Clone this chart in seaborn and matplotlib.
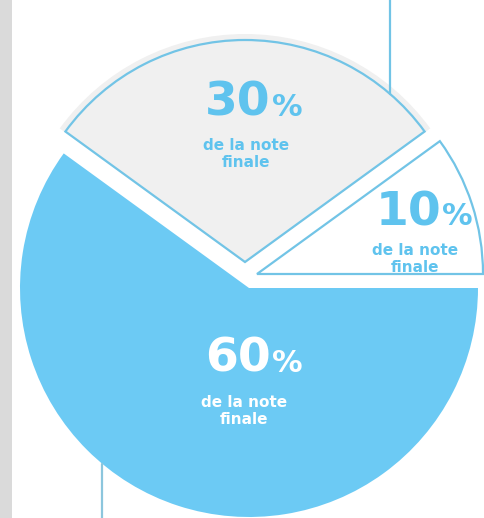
import numpy as np
import matplotlib
matplotlib.use("Agg")
import matplotlib.pyplot as plt
import seaborn as sns

# Data
shares = [10, 30, 60]
share_labels = ["10", "30", "60"]
sub_label = "de la note\nfinale"

# Colours
BLUE = "#6ccaf4"
OUTLINE = "#72c4e6"
TEXT_BLUE = "#5fc3ee"
LIGHT_GRAY = "#f0f0f0"
STRIP = "#dadada"

W, H = 485, 518


def py(y):
    # pixel row (from top) -> data y (from bottom)
    return H - y


sns.set_style("white")
plt.rcParams["font.family"] = ["DejaVu Sans"]

fig = plt.figure(figsize=(W / 100, H / 100), dpi=100)
ax = fig.add_axes([0, 0, 1, 1])

# filled slices
fills, _ = ax.pie(shares, colors=["white", LIGHT_GRAY, BLUE], startangle=0,
                  counterclock=True, radius=229, center=(249, py(288)),
                  wedgeprops=dict(linewidth=0))
fills[0].set_center((257, py(276)))
fills[0].set_radius(228)
fills[1].set_center((245, py(263)))
fills[1].set_radius(229)

# outlined (exploded) slices
outlines, _ = ax.pie(shares, colors=["none"] * 3, startangle=0,
                     counterclock=True, radius=222, center=(245, py(262)),
                     wedgeprops=dict(fill=False, edgecolor=OUTLINE, linewidth=1.6))
outlines[0].set_center((257, py(274)))
outlines[0].set_radius(226)
outlines[2].remove()

# decorative vertical lines
cx, cy = outlines[1].center
r = outlines[1].r
x_top = 390
y_arc = cy + np.sqrt(r ** 2 - (x_top - cx) ** 2)
ax.plot([x_top, x_top], [y_arc, H], color=OUTLINE, lw=1.6)

bx, by = fills[2].center
br = fills[2].r
x_bot = 102
y_edge = by - np.sqrt(br ** 2 - (x_bot - bx) ** 2)
ax.plot([x_bot, x_bot], [0, y_edge], color="#8cc6dd", lw=1.6)

# grey strip on the left
ax.axvspan(0, 12, color=STRIP, lw=0)

# labels: (junction x, baseline y of big number, sub label centre x, sub label top y, colour)
label_pos = [(441, 225, 415, 243, TEXT_BLUE),
             (271, 116, 246, 138, TEXT_BLUE),
             (271, 372, 244, 395, "white")]
for lab, (jx, base, sx, sy, col) in zip(share_labels, label_pos):
    ax.text(jx, py(base), lab, ha="right", va="baseline", fontsize=34,
            fontweight="bold", color=col)
    ax.text(jx + 1, py(base), "%", ha="left", va="baseline", fontsize=22,
            fontweight="bold", color=col)
    ax.text(sx, py(sy), sub_label, ha="center", va="top", fontsize=11,
            fontweight="bold", color=col, linespacing=1.15)

ax.set_xlim(0, W)
ax.set_ylim(0, H)
ax.set_aspect("auto")
ax.set_axis_off()

fig.savefig("out.png", dpi=100, facecolor="white")
